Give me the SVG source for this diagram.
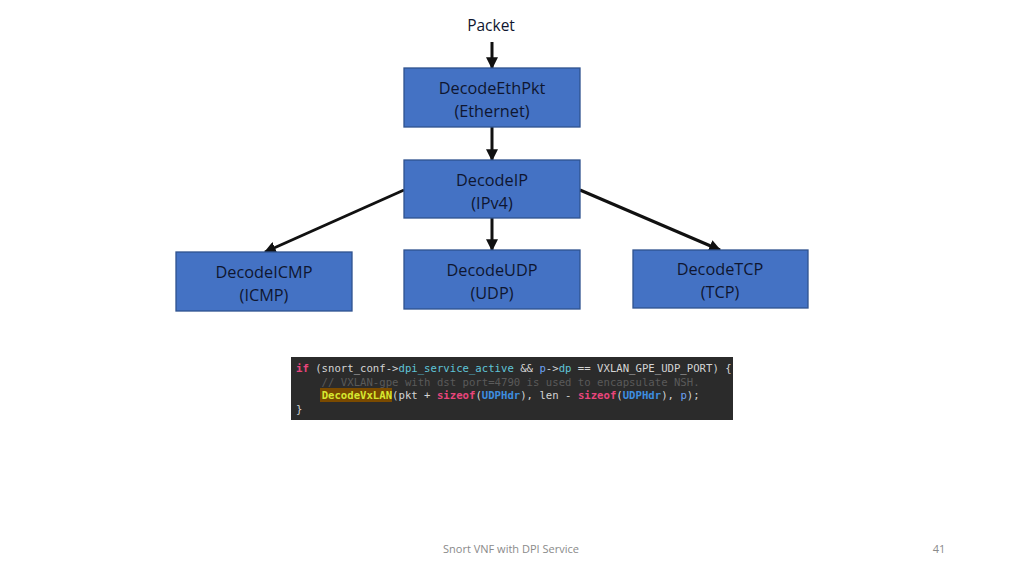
<svg xmlns="http://www.w3.org/2000/svg" width="1024" height="576" viewBox="0 0 1024 576">
<defs>
<marker id="ah" viewBox="0 0 10 10" refX="9" refY="5" markerWidth="4" markerHeight="4" orient="auto" markerUnits="strokeWidth">
<path d="M0,0 L10,5 L0,10 z" fill="#111"/>
</marker>
<style>
.box{fill:#4472C4;stroke:#2F528F;stroke-width:1.3}
.lbl{font-family:"Open Sans","Liberation Sans",sans-serif;font-size:16.3px;fill:#0f1630;text-anchor:middle}
.conn{stroke:#111;stroke-width:3;fill:none;marker-end:url(#ah)}
.code{font-family:"DejaVu Sans Mono","Liberation Mono",monospace;font-size:10.65px;fill:#d4d4d4}
.kw{fill:#e8457c;font-weight:bold}
.fld{fill:#5fc4d8}
.var{fill:#6aa0f0}
.cm{fill:#5a5a5a}
.ty{fill:#3d8ee0;font-weight:bold}
.fn{fill:#d6e830;font-weight:bold}
.foot{font-family:"Open Sans","Liberation Sans",sans-serif;font-size:11px;fill:#8a8a8a}
</style>
</defs>
<rect width="1024" height="576" fill="#ffffff"/>
<text x="491" y="31" class="lbl" style="font-size:15.5px">Packet</text>
<g id="connectors">
<line class="conn" x1="492" y1="42" x2="492" y2="68"/>
<line class="conn" x1="492" y1="127" x2="492" y2="160"/>
<line class="conn" x1="404" y1="190" x2="265" y2="252"/>
<line class="conn" x1="492" y1="218" x2="492" y2="250"/>
<line class="conn" x1="580" y1="190" x2="720" y2="250"/>
</g>
<g id="eth">
<rect class="box" x="404" y="68" width="176" height="59"/>
<text class="lbl" x="492" y="94">DecodeEthPkt</text>
<text class="lbl" x="492" y="117">(Ethernet)</text>
</g>
<g id="ip">
<rect class="box" x="404" y="160" width="176" height="58"/>
<text class="lbl" x="492" y="186">DecodeIP</text>
<text class="lbl" x="492" y="209">(IPv4)</text>
</g>
<g id="icmp">
<rect class="box" x="176" y="252" width="176" height="59"/>
<text class="lbl" x="264" y="278">DecodeICMP</text>
<text class="lbl" x="264" y="301">(ICMP)</text>
</g>
<g id="udp">
<rect class="box" x="404" y="250" width="176" height="59"/>
<text class="lbl" x="492" y="276">DecodeUDP</text>
<text class="lbl" x="492" y="299">(UDP)</text>
</g>
<g id="tcp">
<rect class="box" x="633" y="250" width="175" height="58"/>
<text class="lbl" x="720" y="275">DecodeTCP</text>
<text class="lbl" x="720" y="298">(TCP)</text>
</g>
<g id="codeblock">
<rect x="291" y="357" width="442" height="63" fill="#2b2b2b"/>
<rect x="320" y="388" width="72" height="14" fill="#7a4a00"/>
<text class="code" x="296" y="372" xml:space="preserve"><tspan class="kw">if</tspan> (snort_conf-&gt;<tspan class="fld">dpi_service_active</tspan> &amp;&amp; <tspan class="var">p</tspan>-&gt;<tspan class="fld">dp</tspan> == VXLAN_GPE_UDP_PORT) {</text>
<text class="code cm" x="296" y="386" xml:space="preserve">    // VXLAN-gpe with dst port=4790 is used to encapsulate NSH.</text>
<text class="code" x="296" y="399" xml:space="preserve">    <tspan class="fn">DecodeVxLAN</tspan>(pkt + <tspan class="kw">sizeof</tspan>(<tspan class="ty">UDPHdr</tspan>), len - <tspan class="kw">sizeof</tspan>(<tspan class="ty">UDPHdr</tspan>), <tspan class="var">p</tspan>);</text>
<text class="code" x="296" y="413">}</text>
</g>
<text class="foot" x="511" y="553" text-anchor="middle">Snort VNF with DPI Service</text>
<text class="foot" x="939" y="553" text-anchor="middle">41</text>
</svg>
